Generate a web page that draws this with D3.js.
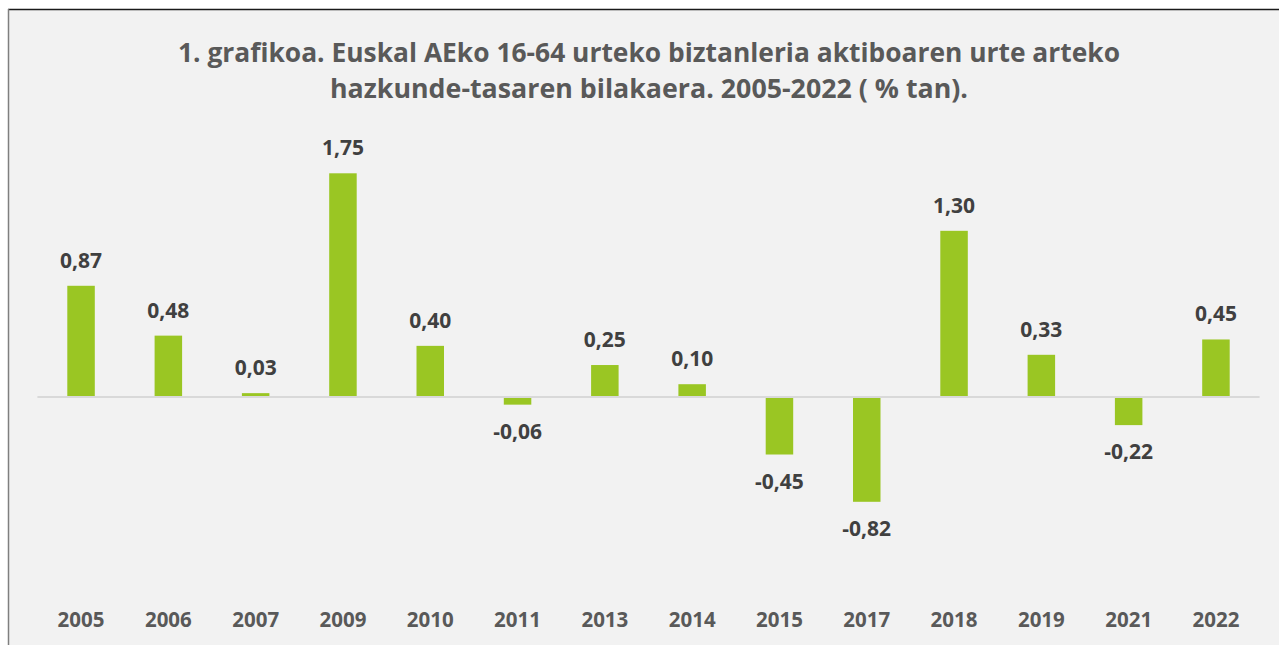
<!DOCTYPE html>
<html>
<head>
<meta charset="utf-8">
<script src="https://cdn.jsdelivr.net/npm/d3@7/dist/d3.min.js"></script>
<style>
  html, body { margin: 0; padding: 0; background: #ffffff; }
  svg { display: block; }
</style>
</head>
<body>
<svg id="chart" width="1279" height="645"></svg>
<script>
const years = ["2005","2006","2007","2009","2010","2011","2013","2014","2015","2017","2018","2019","2021","2022"];
const values = [0.87, 0.48, 0.03, 1.75, 0.40, -0.06, 0.25, 0.10, -0.45, -0.82, 1.30, 0.33, -0.22, 0.45];
const titleLines = [
  "1. grafikoa. Euskal AEko 16-64 urteko biztanleria aktiboaren urte arteko",
  "hazkunde-tasaren bilakaera. 2005-2022 ( % tan)."
];

const svg = d3.select("#chart");
const W = 1279, H = 645;
const font = "'Open Sans', 'Noto Sans', sans-serif";

// chart area background + borders
svg.append("rect").attr("x", 8).attr("y", 9).attr("width", W - 8).attr("height", H - 9).attr("fill", "#f2f2f2");
svg.append("line").attr("x1", 8).attr("x2", W).attr("y1", 9.5).attr("y2", 9.5).attr("stroke", "#1a1a1a").attr("stroke-width", 1.5);
svg.append("line").attr("x1", 8.5).attr("x2", 8.5).attr("y1", 9).attr("y2", H).attr("stroke", "#7f7f7f").attr("stroke-width", 1.5);

// title
const titleWidths = [942, 638];
const titleY = [62, 98];
titleLines.forEach((t, i) => {
  svg.append("text")
    .attr("x", 649).attr("y", titleY[i])
    .attr("text-anchor", "middle")
    .attr("font-family", font).attr("font-weight", "bold").attr("font-size", 27)
    .attr("fill", "#595959")
    .attr("textLength", titleWidths[i]).attr("lengthAdjust", "spacingAndGlyphs")
    .text(t);
});

// scales
const x = d3.scaleBand().domain(years).range([37.4, 1259.6]).paddingInner(0.685).paddingOuter(0.3425);
const y = d3.scaleLinear().domain([-0.82, 1.75]).range([501.8, 173.3]);

// bars
svg.append("g").selectAll("rect").data(values).join("rect")
  .attr("x", (d, i) => x(years[i]))
  .attr("width", x.bandwidth())
  .attr("y", d => y(Math.max(0, d)))
  .attr("height", d => Math.abs(y(d) - y(0)))
  .attr("fill", "#9ac623");

// zero axis line
svg.append("line")
  .attr("x1", 37.4).attr("x2", 1259.6)
  .attr("y1", y(0)).attr("y2", y(0))
  .attr("stroke", "#d9d9d9").attr("stroke-width", 2);

// value labels
const fmt = d => d3.format(".2f")(d).replace(".", ",").replace("−", "-");
svg.append("g").selectAll("text").data(values).join("text")
  .attr("x", (d, i) => x(years[i]) + x.bandwidth() / 2)
  .attr("y", d => d >= 0 ? y(d) - 18 : y(d) + 34)
  .attr("text-anchor", "middle")
  .attr("font-family", font).attr("font-weight", "bold").attr("font-size", 21)
  .attr("fill", "#404040")
  .text(d => fmt(d));

// category axis labels
const xAxis = d3.axisBottom(x).tickSize(0).tickPadding(0);
const gx = svg.append("g").attr("transform", "translate(0,612)").call(xAxis);
gx.select(".domain").remove();
gx.selectAll("text")
  .attr("dy", "0.71em")
  .attr("font-family", font).attr("font-weight", "bold").attr("font-size", 20.5)
  .attr("fill", "#595959");
</script>
</body>
</html>
